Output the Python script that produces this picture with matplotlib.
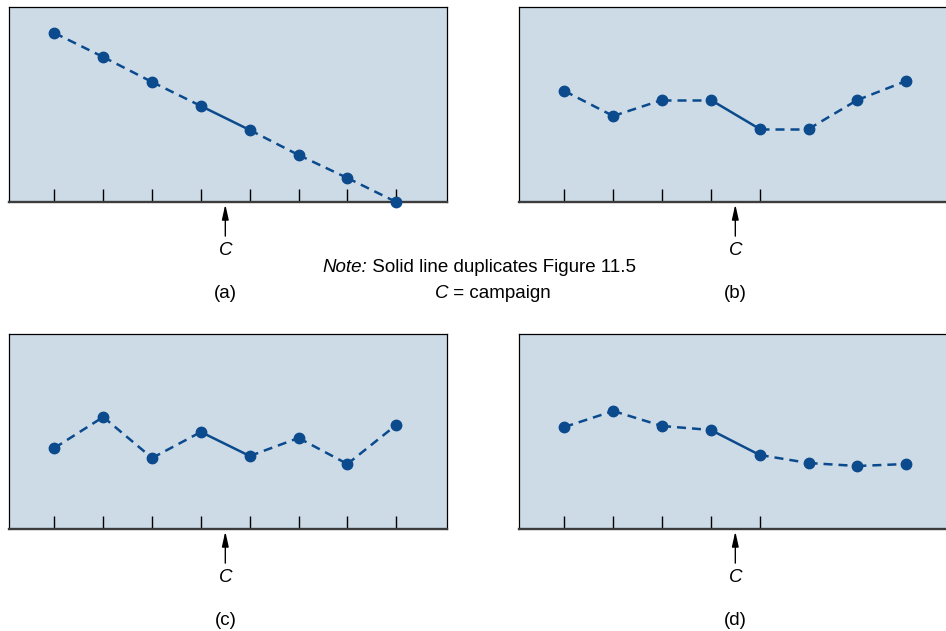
import matplotlib.pyplot as plt

plt.rcParams["font.family"] = ["Liberation Sans", "DejaVu Sans"]

# ---------------------------------------------------------------------------
# Data (sales level per period, arbitrary units)
# ---------------------------------------------------------------------------
periods = [0, 1, 2, 3, 4, 5, 6, 7]
series_a = [169, 145, 120, 96, 72, 47, 24, 0]
series_b = [111, 86, 102, 102, 73, 73, 102, 121]
series_c = [81, 112, 71, 97, 73, 91, 65, 104]
series_d = [102, 118, 103, 99, 74, 66, 63, 65]
panel_labels = ["(a)", "(b)", "(c)", "(d)"]
ticks_full = [0, 1, 2, 3, 4, 5, 6, 7]
ticks_short = [0, 1, 2, 3, 4]
solid_from = 3          # segment 3 -> 4 is the original Figure 11.5 line
campaign_at = 3.5

BG = "#cddbe7"
LINE = "#0b4a8c"
FS = 13.5

W, H = 946, 631


def px_axes(fig, left, top, width, height):
    return fig.add_axes([left / W, 1 - (top + height) / H, width / W, height / H])


def panel(ax, y, ticks, label):
    ax.set_facecolor(BG)
    ax.set_xlim(-0.93, 8.04)
    ax.set_ylim(0, 195)
    for name in ("top", "left", "right"):
        ax.spines[name].set_linewidth(0.9)
        ax.spines[name].set_color("black")
    ax.spines["bottom"].set_linewidth(1.7)
    ax.spines["bottom"].set_color("#3c3c3c")
    ax.set_xticks(ticks)
    ax.set_xticklabels([])
    ax.set_yticks([])
    ax.tick_params(axis="x", direction="in", length=9.5, width=1.0, color="black")

    # dashed segments, solid for the duplicated piece
    for i in range(len(periods) - 1):
        ls = "-" if i == solid_from else (0, (3.6, 2.4))
        ax.plot(periods[i:i + 2], y[i:i + 2], color=LINE, lw=1.8,
                linestyle=ls, zorder=3, clip_on=False)
    ax.plot(periods, y, "o", color=LINE, ms=7.5, zorder=4, clip_on=False)

    tr = ax.get_xaxis_transform()
    ax.annotate("", xy=(campaign_at, -0.012), xytext=(campaign_at, -0.175),
                xycoords=tr, textcoords=tr,
                arrowprops=dict(arrowstyle="-|>,head_length=0.9,head_width=0.2",
                                color="black", lw=1.0, shrinkA=0, shrinkB=0))
    ax.text(campaign_at, -0.25, "C", transform=tr, ha="center", va="center",
            fontsize=FS, style="italic")
    ax.text(campaign_at, -0.47, label, transform=tr, ha="center", va="center",
            fontsize=FS)


def mixed_line(fig, x_center, y, parts):
    """Centre a line built from (text, style) pieces."""
    r = fig.canvas.get_renderer()
    items = [fig.text(0, y, s, fontsize=FS, style=st, va="center") for s, st in parts]
    widths = [t.get_window_extent(r).width / W for t in items]
    x = x_center - sum(widths) / 2
    for t, w in zip(items, widths):
        t.set_x(x)
        x += w


fig = plt.figure(figsize=(W / 100, H / 100), dpi=100)

ax_a = px_axes(fig, 9, 7, 438, 195)
ax_b = px_axes(fig, 519, 7, 438, 195)
ax_c = px_axes(fig, 9, 334, 438, 195)
ax_d = px_axes(fig, 519, 334, 438, 195)

panel(ax_a, series_a, ticks_full, panel_labels[0])
panel(ax_b, series_b, ticks_short, panel_labels[1])
panel(ax_c, series_c, ticks_full, panel_labels[2])
panel(ax_d, series_d, ticks_short, panel_labels[3])

mixed_line(fig, 479 / W, 1 - 268 / H,
           [("Note:", "italic"), (" Solid line duplicates Figure 11.5", "normal")])
mixed_line(fig, 493 / W, 1 - 293 / H,
           [("C", "italic"), (" = campaign", "normal")])

fig.savefig("out.png", dpi=100, facecolor="white")
